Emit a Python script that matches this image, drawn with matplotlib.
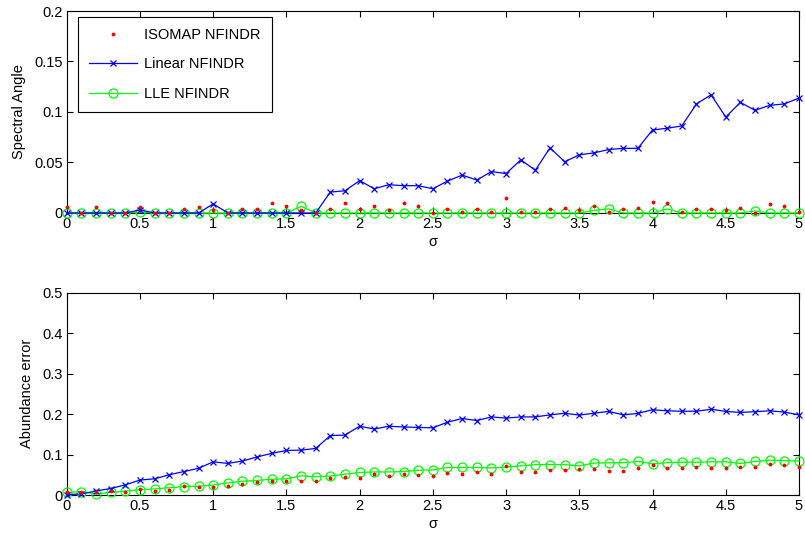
import numpy as np
import matplotlib
matplotlib.use("Agg")
import matplotlib.pyplot as plt

plt.rcParams['font.family'] = ['Liberation Sans', 'DejaVu Sans']

# sigma values 0 .. 5 step 0.1
sigma = [round(0.1 * i, 1) for i in range(51)]

# top panel: spectral angle
sa_isomap = [0.006, 0.0, 0.006, 0.0, 0.0, 0.006, 0.0, 0.0, 0.004, 0.006,
             0.003, 0.0, 0.004, 0.004, 0.010, 0.0066, 0.003, 0.0, 0.004, 0.0095,
             0.004, 0.0066, 0.003, 0.010, 0.0066, 0.0, 0.004, 0.0007, 0.004, 0.0013,
             0.0148, 0.0007, 0.0013, 0.004, 0.005, 0.0033, 0.007, 0.0007, 0.004, 0.005,
             0.011, 0.010, 0.0007, 0.0043, 0.004, 0.0026, 0.005, 0.0, 0.0086, 0.007,
             0.0007]
sa_linear = [0.0, 0.0, 0.0, 0.0, 0.0, 0.003, 0.0, 0.0, 0.0, 0.0,
             0.009, 0.0, 0.0, 0.0, 0.0, 0.0, 0.0, 0.0, 0.0207, 0.022,
             0.032, 0.024, 0.028, 0.027, 0.027, 0.024, 0.0316, 0.0375, 0.0326, 0.041,
             0.039, 0.0526, 0.0424, 0.0645, 0.0507, 0.0576, 0.0595, 0.0628, 0.064, 0.064,
             0.0822, 0.0839, 0.0862, 0.108, 0.117, 0.095, 0.1095, 0.1016, 0.1066, 0.108,
             0.1138]
sa_lle = [0.0, 0.0, 0.0, 0.0, 0.0, 0.001, 0.0, 0.0, 0.0, 0.0,
          0.0, 0.0, 0.0, 0.0, 0.0, 0.0, 0.0066, 0.0, 0.0, 0.0,
          0.0, 0.0, 0.0, 0.0, 0.0, 0.0, 0.0, 0.0, 0.0, 0.0,
          0.0, 0.0, 0.0, 0.0, 0.0, 0.0, 0.0026, 0.004, 0.0, 0.0,
          0.0, 0.004, 0.0, 0.0, 0.0, 0.0, 0.0, 0.002, 0.0, 0.0,
          0.0]

# bottom panel: abundance error
ae_isomap = [0.008, 0.008, 0.0066, 0.011, 0.008, 0.016, 0.011, 0.013, 0.022, 0.0205,
             0.021, 0.022, 0.027, 0.032, 0.0336, 0.034, 0.034, 0.034, 0.0426, 0.045,
             0.042, 0.053, 0.046, 0.053, 0.050, 0.0475, 0.055, 0.051, 0.056, 0.053,
             0.0713, 0.0566, 0.0566, 0.061, 0.061, 0.065, 0.064, 0.060, 0.060, 0.067,
             0.0746, 0.0656, 0.0656, 0.068, 0.067, 0.0656, 0.0697, 0.068, 0.0754, 0.073,
             0.0697]
ae_linear = [0.001, 0.0025, 0.010, 0.016, 0.025, 0.037, 0.040, 0.050, 0.058, 0.066,
             0.082, 0.078, 0.084, 0.094, 0.103, 0.110, 0.111, 0.115, 0.147, 0.148,
             0.170, 0.163, 0.170, 0.168, 0.167, 0.166, 0.180, 0.189, 0.184, 0.193,
             0.190, 0.193, 0.193, 0.198, 0.202, 0.1975, 0.202, 0.2066, 0.198, 0.2016,
             0.2107, 0.208, 0.207, 0.207, 0.212, 0.2066, 0.204, 0.206, 0.208, 0.205,
             0.198]
ae_lle = [0.0066, 0.008, 0.0025, 0.0066, 0.010, 0.013, 0.015, 0.018, 0.0205, 0.022,
          0.0246, 0.030, 0.034, 0.036, 0.039, 0.040, 0.0475, 0.045, 0.0467, 0.0516,
          0.0557, 0.057, 0.057, 0.058, 0.061, 0.062, 0.068, 0.068, 0.068, 0.067,
          0.069, 0.072, 0.075, 0.075, 0.075, 0.072, 0.079, 0.0795, 0.080, 0.083,
          0.077, 0.080, 0.081, 0.081, 0.082, 0.082, 0.078, 0.083, 0.086, 0.085,
          0.084]

x_ticks = [0, 0.5, 1, 1.5, 2, 2.5, 3, 3.5, 4, 4.5, 5]
x_labels = ['0', '0.5', '1', '1.5', '2', '2.5', '3', '3.5', '4', '4.5', '5']
top_yticks = [0, 0.05, 0.1, 0.15, 0.2]
top_ylabels = ['0', '0.05', '0.1', '0.15', '0.2']
bot_yticks = [0, 0.1, 0.2, 0.3, 0.4, 0.5]
bot_ylabels = ['0', '0.1', '0.2', '0.3', '0.4', '0.5']

FS = 10.5

fig = plt.figure(figsize=(8.05, 5.37), dpi=100)
ax1 = fig.add_axes([0.0829, 0.6034, 0.9096, 0.3761])
ax2 = fig.add_axes([0.0829, 0.0782, 0.9096, 0.3768])


def draw(ax, iso, lin, lle):
    ax.plot(sigma, lle, color=(0, 1, 0), lw=0.9, marker='o', ms=6.5,
            mfc='none', mew=0.9, label='LLE NFINDR', zorder=3, clip_on=False)
    ax.plot(sigma, lin, color=(0, 0, 1), lw=0.9, marker='x', ms=5,
            mew=0.9, label='Linear NFINDR', zorder=4, clip_on=False)
    ax.plot(sigma, iso, ls='none', color=(1, 0, 0), marker='.', ms=3.5,
            label='ISOMAP NFINDR', zorder=5, clip_on=False)
    ax.set_xlim(0, 5)
    ax.set_xticks(x_ticks)
    ax.set_xticklabels(x_labels, fontsize=FS)
    ax.set_xlabel('σ', fontsize=FS, labelpad=3)
    ax.tick_params(direction='in', top=True, right=True, length=4,
                   width=0.8, pad=3, colors='black')
    for sp in ax.spines.values():
        sp.set_linewidth(0.8)


draw(ax1, sa_isomap, sa_linear, sa_lle)
ax1.set_ylim(0, 0.2)
ax1.set_yticks(top_yticks)
ax1.set_yticklabels(top_ylabels, fontsize=FS)
ax1.set_ylabel('Spectral Angle', fontsize=FS, labelpad=6)

h, l = ax1.get_legend_handles_labels()
order = [2, 1, 0]
leg = ax1.legend([h[i] for i in order], [l[i] for i in order],
                 loc='upper left', bbox_to_anchor=(0.0154, 0.97),
                 fontsize=FS, fancybox=False, edgecolor='black',
                 framealpha=1, handlelength=3.3, handletextpad=0.5,
                 labelspacing=1.05, borderpad=0.75, borderaxespad=0)
leg.get_frame().set_linewidth(0.8)
leg.set_zorder(10)

draw(ax2, ae_isomap, ae_linear, ae_lle)
ax2.set_ylim(0, 0.5)
ax2.set_yticks(bot_yticks)
ax2.set_yticklabels(bot_ylabels, fontsize=FS)
ax2.set_ylabel('Abundance error', fontsize=FS, labelpad=6)

fig.savefig('out.png', dpi=100)
